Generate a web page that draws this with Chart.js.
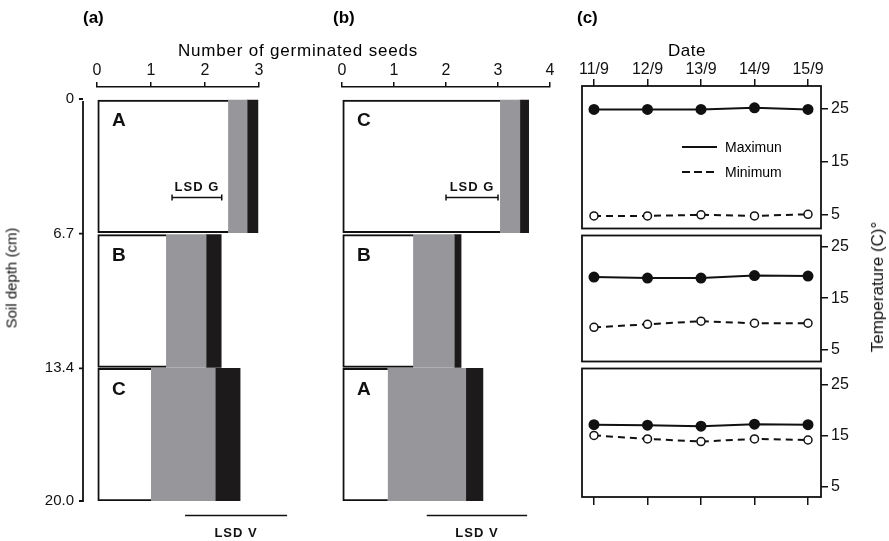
<!DOCTYPE html>
<html>
<head>
<meta charset="utf-8">
<script src="https://cdn.jsdelivr.net/npm/chart.js@4.4.1/dist/chart.umd.min.js"></script>
<style>
body { margin: 0; background: #fff; font-family: "Liberation Sans", Arial, sans-serif; color: #000; }
#page { position: relative; width: 889px; height: 541px; overflow: hidden; background: #fff; }
canvas { position: absolute; }
.txt { position: absolute; white-space: nowrap; z-index: 2; }
.panel { font-weight: bold; font-size: 17px; top: 8px; }
.rot { transform: translate(-50%, -50%) rotate(-90deg); color: #111; }
.ctr { transform: translate(-50%, -50%); }
.leg { position: absolute; left: 682px; display: flex; align-items: center; font-size: 14px; height: 20px; z-index: 2; }
.leg span { margin-left: 8px; }
</style>
</head>
<body>
<div id="page">
	<canvas id="chartA" width="300" height="541" style="left:0;top:0"></canvas>
	<canvas id="chartB" width="270" height="541" style="left:300px;top:0"></canvas>
	<canvas id="chartC1" width="319" height="235" style="left:570px;top:0"></canvas>
	<canvas id="chartC2" width="319" height="139" style="left:570px;top:229px"></canvas>
	<canvas id="chartC3" width="319" height="179" style="left:570px;top:362px"></canvas>

	<div class="txt panel" style="left:83px">(a)</div>
	<div class="txt panel" style="left:333px">(b)</div>
	<div class="txt panel" style="left:577px">(c)</div>
	<div class="txt ctr" style="left:298px;top:51px;font-size:17px;letter-spacing:0.8px">Number of germinated seeds</div>
	<div class="txt ctr" style="left:687px;top:51px;font-size:17px;letter-spacing:0.5px">Date</div>
	<div class="txt rot" style="left:11px;top:278px;font-size:15px">Soil depth (cm)</div>
	<div class="txt rot" style="left:878px;top:287px;font-size:17px">Temperature (C)°</div>
	<div id="legend"></div>
</div>
<script>
// panels (a) and (b): germinated seeds in each soil layer
const depthTicks = [0, 6.7, 13.4, 20.0];

const layersA = ["A", "B", "C"];
const whiteA = [2.43, 1.28, 1.0];
const greyA = [0.35, 0.74, 1.19];
const blackA = [0.2, 0.28, 0.46];
const lsdGA = [1.39, 2.31];
const lsdVA = [1.63, 3.52];

const layersB = ["C", "B", "A"];
const whiteB = [3.04, 1.37, 0.88];
const greyB = [0.38, 0.79, 1.5];
const blackB = [0.17, 0.13, 0.33];
const lsdGB = [2.0, 3.0];
const lsdVB = [1.63, 3.56];

// panel (c): daily temperature for the three layers
const dates = ["11/9", "12/9", "13/9", "14/9", "15/9"];
const seriesNames = ["Maximun", "Minimum"];
const tempTicks = [5, 15, 25];
const maxTop = [24.8, 24.8, 24.8, 25.1, 24.8];
const minTop = [4.8, 4.8, 5.0, 4.8, 5.1];
const maxMid = [19.1, 18.9, 18.9, 19.4, 19.3];
const minMid = [9.3, 9.9, 10.5, 10.1, 10.1];
const maxBot = [17.2, 17.1, 16.9, 17.3, 17.2];
const minBot = [15.1, 14.4, 13.9, 14.4, 14.2];

const FONT = '"Liberation Sans", Arial, sans-serif';
const INK = "#111";
const lsdGDepth = 4.9;
const lsdVDepth = 20.72;
const depthGap = 14; // space between depth axis line and the bars

Chart.defaults.font.family = FONT;
Chart.defaults.color = INK;

const layerLetters = {
	id: "layerLetters",
	afterDatasetsDraw(chart, args, opts) {
		var ctx = chart.ctx;
		var meta = chart.getDatasetMeta(0);
		ctx.save();
		ctx.font = "bold 19px " + FONT;
		ctx.fillStyle = INK;
		ctx.textBaseline = "middle";
		meta.data.forEach(function (bar, i) {
			ctx.fillText(opts.labels[i], chart.chartArea.left + 15, bar.y - bar.height / 2 + 21);
		});
		ctx.restore();
	},
};

// the depth axis stands apart from the bars: its line and ticks come from the y scale
const depthAxis = {
	id: "depthAxis",
	afterDraw(chart) {
		var s = chart.scales.y;
		if (!s.options.display) return;
		var x = chart.chartArea.left - depthGap;
		var ctx = chart.ctx;
		ctx.save();
		ctx.strokeStyle = INK;
		ctx.lineWidth = 1.8;
		ctx.beginPath();
		ctx.moveTo(x, chart.chartArea.top + 2);
		ctx.lineTo(x, chart.chartArea.bottom + 1);
		depthTicks.forEach(function (v) {
			var p = s.getPixelForValue(v);
			ctx.moveTo(x - 4, p);
			ctx.lineTo(x, p);
		});
		ctx.stroke();
		ctx.restore();
	},
};

const lsdLabels = {
	id: "lsdLabels",
	afterDatasetsDraw(chart) {
		var ctx = chart.ctx;
		chart.data.datasets.forEach(function (ds, i) {
			if (!ds.lsdText) return;
			var pts = chart.getDatasetMeta(i).data;
			var mid = (pts[0].x + pts[1].x) / 2;
			ctx.save();
			ctx.font = "bold 13px " + FONT;
			ctx.letterSpacing = "1px";
			ctx.fillStyle = INK;
			ctx.textAlign = "center";
			if (ds.lsdSide == "above") {
				ctx.textBaseline = "bottom";
				ctx.fillText(ds.lsdText, mid, pts[0].y - 4);
			} else {
				ctx.textBaseline = "top";
				ctx.fillText(ds.lsdText, mid, pts[0].y + 11);
			}
			ctx.restore();
		});
	},
};

const frame = {
	id: "frame",
	afterDatasetsDraw(chart) {
		var a = chart.chartArea;
		var ctx = chart.ctx;
		ctx.save();
		ctx.strokeStyle = INK;
		ctx.lineWidth = 1.8;
		ctx.strokeRect(a.left, a.top, a.right - a.left, a.bottom - a.top);
		ctx.restore();
	},
};

function lsdLine(range, depth, text, side) {
	return {
		type: "line",
		order: 0,
		data: [
			{ x: range[0], y: depth },
			{ x: range[1], y: depth },
		],
		borderColor: INK,
		borderWidth: 1.5,
		pointStyle: "line",
		rotation: 90,
		pointRadius: 3,
		pointBorderWidth: 1.5,
		pointBorderColor: INK,
		clip: false,
		lsdText: text,
		lsdSide: side,
	};
}

function seedChart(id, layers, white, grey, black, lsdG, lsdV, xMax, showDepth, padLeft, padRight) {
	var w = [], g = [], b = [];
	for (var i = 0; i < white.length; i++) {
		var c = (depthTicks[i] + depthTicks[i + 1]) / 2;
		w.push({ y: c, x: [0, white[i]] });
		g.push({ y: c, x: [white[i], white[i] + grey[i]] });
		b.push({ y: c, x: [white[i] + grey[i], white[i] + grey[i] + black[i]] });
	}
	var barBase = { type: "bar", order: 1, grouped: false, categoryPercentage: 1, barPercentage: 1 };
	var scales = {
		x: {
			type: "linear",
			position: "top",
			weight: 1,
			min: 0,
			max: xMax,
			ticks: { stepSize: 1, font: { size: 16 }, padding: 2, color: INK },
			grid: { drawOnChartArea: false, tickLength: 5, color: INK, lineWidth: 1.5 },
			border: { color: INK, width: 1.5 },
			afterFit: function (s) { s.height = 87; },
		},
		xGap: {
			position: "top",
			grid: { display: false },
			border: { display: false },
			ticks: { display: false },
			afterFit: function (s) { s.height = 12; },
		},
		y: {
			type: "linear",
			position: "left",
			reverse: true,
			offset: false,
			min: 0,
			max: 20,
			display: showDepth,
			afterBuildTicks: function (s) {
				s.ticks = depthTicks.map(function (v) { return { value: v }; });
			},
			ticks: {
				font: { size: 15 },
				padding: 15,
				color: INK,
				callback: function (v) { return v === 0 ? "0" : v.toFixed(1); },
			},
			grid: { display: false },
			border: { display: false },
		},
	};
	if (showDepth) {
		scales.y.afterFit = function (s) { s.width = 97; };
	}
	return new Chart(document.getElementById(id), {
		type: "bar",
		data: {
			datasets: [
				Object.assign({}, barBase, { data: w, backgroundColor: "#fff", borderColor: INK, borderWidth: 2, borderSkipped: "end" }),
				Object.assign({}, barBase, { data: g, backgroundColor: "#96969b", borderWidth: 0 }),
				Object.assign({}, barBase, { data: b, backgroundColor: "#1c1a1b", borderWidth: 0 }),
				lsdLine(lsdG, lsdGDepth, "LSD G", "above"),
				lsdLine(lsdV, lsdVDepth, "LSD V", "below"),
			],
		},
		options: {
			indexAxis: "y",
			responsive: false,
			animation: false,
			layout: { padding: { left: padLeft, right: padRight, top: 0, bottom: 40 } },
			plugins: {
				legend: { display: false },
				tooltip: { enabled: false },
				layerLetters: { labels: layers },
			},
			scales: scales,
		},
		plugins: [layerLetters, lsdLabels, depthAxis],
	});
}

seedChart("chartA", layersA, whiteA, greyA, blackA, lsdGA, lsdVA, 3, true, 0, 41);
seedChart("chartB", layersB, whiteB, greyB, blackB, lsdGB, lsdVB, 4, false, 42, 20);

function points(values) {
	return values.map(function (v, i) { return { x: i, y: v }; });
}

function dateTicks(s) {
	s.ticks = dates.map(function (d, i) { return { value: i }; });
}

function tempChart(id, maxData, minData, yMin, yMax, part) {
	var scales = {
		x: {
			type: "linear",
			position: "top",
			min: -0.224,
			max: 4.243,
			display: part == "top",
			afterBuildTicks: dateTicks,
			ticks: {
				font: { size: 16 },
				padding: 0,
				color: INK,
				callback: function (v) { return dates[v]; },
			},
			grid: { drawOnChartArea: false, tickLength: 7, color: INK, lineWidth: 1.5 },
			border: { display: false },
		},
		y: {
			type: "linear",
			position: "right",
			min: yMin,
			max: yMax,
			afterBuildTicks: function (s) {
				s.ticks = tempTicks.map(function (v) { return { value: v }; });
			},
			ticks: { font: { size: 16 }, padding: 3, color: INK },
			grid: { drawOnChartArea: false, tickLength: 7, color: INK, lineWidth: 1.5 },
			border: { display: false },
			afterFit: function (s) {
				s.width = 68;
				s.paddingTop = 0;
				s.paddingBottom = 0;
			},
		},
	};
	if (part == "top") {
		scales.x.afterFit = function (s) { s.height = 86; };
	}
	if (part == "bottom") {
		scales.xb = {
			type: "linear",
			position: "bottom",
			min: -0.224,
			max: 4.243,
			afterBuildTicks: dateTicks,
			ticks: { display: false },
			grid: { drawOnChartArea: false, tickLength: 8, color: INK, lineWidth: 1.5 },
			border: { display: false },
			afterFit: function (s) { s.height = 44; },
		};
	}
	return new Chart(document.getElementById(id), {
		type: "line",
		data: {
			datasets: [
				{
					label: seriesNames[0],
					data: points(maxData),
					borderColor: INK,
					borderWidth: 2,
					pointRadius: 4.5,
					pointBackgroundColor: INK,
					pointBorderColor: INK,
					clip: false,
				},
				{
					label: seriesNames[1],
					data: points(minData),
					borderColor: INK,
					borderWidth: 2,
					borderDash: [7, 5],
					pointRadius: 4,
					pointBackgroundColor: "#fff",
					pointBorderColor: INK,
					pointBorderWidth: 1.5,
					clip: false,
				},
			],
		},
		options: {
			responsive: false,
			animation: false,
			layout: { padding: { left: 12, right: 0, top: part == "top" ? 0 : 3, bottom: part == "bottom" ? 0 : 3 } },
			plugins: { legend: { display: false }, tooltip: { enabled: false } },
			scales: scales,
		},
		plugins: [frame],
	});
}

tempChart("chartC1", maxTop, minTop, 2.43, 29.2, "top");
tempChart("chartC2", maxMid, minMid, 2.65, 27.2, "middle");
tempChart("chartC3", maxBot, minBot, 3.04, 28.2, "bottom");

// legend for panel (c)
var legendHtml = "";
seriesNames.forEach(function (name, i) {
	var dash = i == 1 ? ' stroke-dasharray="8 4"' : "";
	legendHtml +=
		'<div class="leg" style="top:' + (137 + i * 25) + 'px">' +
		'<svg width="35" height="4"><line x1="0" y1="2" x2="35" y2="2" stroke="#111" stroke-width="2"' + dash + "/></svg>" +
		"<span>" + name + "</span></div>";
});
document.getElementById("legend").innerHTML = legendHtml;
</script>
</body>
</html>
